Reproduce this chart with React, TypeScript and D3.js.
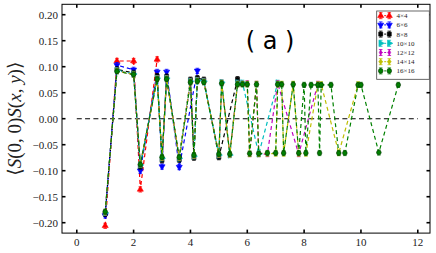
import * as d3 from "d3";

const W = 436;
const H = 253;

// distances r = |(x,y)| and correlations
const dist4 = [1, 1.414, 2, 2.236, 2.828];
const corr4 = [-0.206, 0.111, 0.111, -0.136, 0.114];

const dist6 = [1, 1.414, 2, 2.236, 2.828, 3, 3.162, 3.606, 4.243];
const corr6 = [-0.186, 0.103, 0.094, -0.1, 0.09, -0.092, 0.09, -0.093, 0.092];

const dist8 = [1, 1.414, 2, 2.236, 2.828, 3, 3.162, 3.606, 4, 4.123, 4.243, 4.472, 5, 5.657];
const corr8 = [-0.183, 0.095, 0.088, -0.092, 0.082, -0.08, 0.081, -0.079, 0.075, -0.075, 0.078, 0.075, -0.074, 0.076];

const dist10 = [1, 1.414, 2, 2.236, 2.828, 3, 3.162, 3.606, 4, 4.123, 4.243, 4.472, 5, 5.099, 5.385, 5.657, 5.831, 6.403, 7.071];
const corr10 = [-0.181, 0.093, 0.086, -0.089, 0.078, -0.076, 0.078, -0.076, 0.072, -0.072, 0.074, 0.072, -0.07, 0.07, -0.07, 0.069, 0.069, -0.068, 0.069];

const dist12 = [1, 1.414, 2, 2.236, 2.828, 3, 3.162, 3.606, 4, 4.123, 4.243, 4.472, 5, 5.099, 5.385, 5.657, 5.831, 6, 6.083, 6.325, 6.403, 6.708, 7.071, 7.81, 8.485];
const corr12 = [-0.18, 0.092, 0.085, -0.088, 0.077, -0.075, 0.077, -0.075, 0.071, -0.071, 0.073, 0.071, -0.069, 0.069, -0.069, 0.067, 0.067, 0.068, -0.068, 0.067, -0.068, -0.068, 0.068, -0.068, 0.067];

const dist14 = [1, 1.414, 2, 2.236, 2.828, 3, 3.162, 3.606, 4, 4.123, 4.243, 4.472, 5, 5.099, 5.385, 5.657, 5.831, 6, 6.083, 6.325, 6.403, 6.708, 7, 7.071, 7.211, 7.28, 7.616, 7.81, 8.062, 8.485, 8.602, 9.22, 9.899];
const corr14 = [-0.18, 0.092, 0.085, -0.088, 0.077, -0.075, 0.077, -0.075, 0.071, -0.071, 0.073, 0.071, -0.069, 0.069, -0.069, 0.067, 0.067, 0.067, -0.068, 0.067, -0.068, -0.067, -0.067, 0.067, 0.067, -0.067, 0.067, -0.067, -0.067, 0.066, 0.066, -0.066, 0.066];

const dist16 = [1, 1.414, 2, 2.236, 2.828, 3, 3.162, 3.606, 4, 4.123, 4.243, 4.472, 5, 5.099, 5.385, 5.657, 5.831, 6, 6.083, 6.325, 6.403, 6.708, 7, 7.071, 7.211, 7.28, 7.616, 7.81, 8, 8.062, 8.246, 8.485, 8.544, 8.602, 8.944, 9.22, 9.434, 9.899, 10, 10.63, 11.314];
const corr16 = [-0.179, 0.091, 0.085, -0.088, 0.076, -0.074, 0.076, -0.074, 0.07, -0.07, 0.072, 0.07, -0.068, 0.068, -0.068, 0.066, 0.066, 0.066, -0.067, 0.066, -0.067, -0.066, -0.066, 0.066, 0.066, -0.066, 0.066, -0.066, 0.065, -0.066, 0.065, 0.065, -0.066, 0.065, 0.065, -0.066, -0.066, 0.065, 0.065, -0.065, 0.065];

const labels = ["4\u00d74", "6\u00d76", "8\u00d78", "10\u00d710", "12\u00d712", "14\u00d714", "16\u00d716"];
const colors = ["#ff0000", "#0000ff", "#000000", "#00bfbf", "#bf00bf", "#bfbf00", "#008000"];
const shapes = ["up", "down", "square", "right", "thin", "diamond", "circle"];

const xTicks = [0, 2, 4, 6, 8, 10, 12];
const yTicks = [-0.2, -0.15, -0.1, -0.05, 0, 0.05, 0.1, 0.15, 0.2];

const errSize = 0.005;

const series = [
  [dist4, corr4], [dist6, corr6], [dist8, corr8], [dist10, corr10],
  [dist12, corr12], [dist14, corr14], [dist16, corr16],
].map(([xs, ys], i) => ({
  name: labels[i],
  color: colors[i],
  shape: shapes[i],
  pts: xs.map((x, j) => ({ x, y: ys[j] })),
}));

const x = d3.scaleLinear().domain([-0.52, 12.43]).range([62, 430]);
const y = d3.scaleLinear().domain([-0.22, 0.22]).range([233.1, 4.3]);

const fmtY = (v: number) => (v < 0 ? "\u2212" : "") + Math.abs(v).toFixed(2);

function markerPath(shape: string) {
  switch (shape) {
    case "up":
      return d3.symbol().type(d3.symbolTriangle).size(16)() as string;
    case "down":
      return d3.symbol().type(d3.symbolTriangle).size(16)() as string;
    case "square":
      return d3.symbol().type(d3.symbolSquare).size(16)() as string;
    case "right":
      return d3.symbol().type(d3.symbolTriangle).size(16)() as string;
    case "thin":
      return "M0,-2.8L1.4,0L0,2.8L-1.4,0Z";
    case "diamond":
      return "M0,-2.6L1.9,0L0,2.6L-1.9,0Z";
    default:
      return d3.symbol().type(d3.symbolCircle).size(17)() as string;
  }
}
const rot: Record<string, number> = { down: 180, right: 90 };

function Marker({ cx, cy, s }: { cx: number; cy: number; s: any }) {
  const r = rot[s.shape] || 0;
  return (
    <path
      d={markerPath(s.shape)}
      transform={`translate(${cx},${cy}) rotate(${r})`}
      fill={s.color}
      stroke={s.shape === "circle" ? "#003000" : s.color}
      strokeWidth={0.6}
    />
  );
}

function ErrBar({ cx, y0, y1, color }: { cx: number; y0: number; y1: number; color: string }) {
  return (
    <g stroke={color} strokeWidth={0.8}>
      <line x1={cx} x2={cx} y1={y0} y2={y1} />
      <line x1={cx - 1.8} x2={cx + 1.8} y1={y0} y2={y0} />
      <line x1={cx - 1.8} x2={cx + 1.8} y1={y1} y2={y1} />
    </g>
  );
}

export default function App() {
  const line = d3
    .line<{ x: number; y: number }>()
    .x((d) => x(d.x))
    .y((d) => y(d.y));
  const [x0, x1] = x.range();
  const [yb, yt] = y.range();
  const serif = "'Liberation Serif', 'DejaVu Serif', serif";

  return (
    <div style={{ position: "absolute", left: 0, top: 0 }}>
      <svg width={W} height={H} style={{ display: "block", background: "#fff" }}>
        {/* zero line */}
        <line
          x1={x(0)} x2={x(12)} y1={y(0)} y2={y(0)}
          stroke="#000" strokeWidth={1.1} strokeDasharray="5,3.3"
        />

        {series.map((s) => (
          <g key={s.name}>
            <path d={line(s.pts) as string} fill="none" stroke={s.color} strokeWidth={1.2} strokeDasharray="4,3" />
            {s.pts.map((p, j) => (
              <ErrBar key={"e" + j} cx={x(p.x)} y0={y(p.y + errSize)} y1={y(p.y - errSize)} color={s.color} />
            ))}
            {s.pts.map((p, j) => (
              <Marker key={"m" + j} cx={x(p.x)} cy={y(p.y)} s={s} />
            ))}
          </g>
        ))}

        {/* frame */}
        <rect x={x0} y={yt} width={x1 - x0} height={yb - yt} fill="none" stroke="#000" strokeWidth={1} />

        {/* x ticks */}
        {xTicks.map((t) => (
          <g key={"x" + t}>
            <line x1={x(t)} x2={x(t)} y1={yb} y2={yb - 3.5} stroke="#000" strokeWidth={1.6} />
            <line x1={x(t)} x2={x(t)} y1={yt} y2={yt + 3.5} stroke="#000" strokeWidth={1.6} />
            <text x={x(t)} y={246} textAnchor="middle" fontFamily={serif} fontSize={11} fill="#222">
              {t}
            </text>
          </g>
        ))}

        {/* y ticks */}
        {yTicks.map((t) => (
          <g key={"y" + t}>
            <line x1={x0} x2={x0 + 3.5} y1={y(t)} y2={y(t)} stroke="#000" strokeWidth={1.6} />
            <line x1={x1} x2={x1 - 3.5} y1={y(t)} y2={y(t)} stroke="#000" strokeWidth={1.6} />
            <text x={58} y={y(t) + 3.8} textAnchor="end" fontFamily={serif} fontSize={11} fill="#222">
              {fmtY(t)}
            </text>
          </g>
        ))}

        {/* y label */}
        <text
          transform={`translate(21,${(yb + yt) / 2}) rotate(-90)`}
          textAnchor="middle"
          fontFamily={serif}
          fontSize={19}
          fill="#222"
        >
          {"\u27e8"}
          <tspan fontStyle="italic">S</tspan>(0, 0)
          <tspan fontStyle="italic">S</tspan>(
          <tspan fontStyle="italic">x</tspan>,{" "}
          <tspan fontStyle="italic">y</tspan>){"\u27e9"}
        </text>

        {/* panel tag */}
        <text x={270} y={49} textAnchor="middle" fontFamily="'DejaVu Sans', sans-serif" fontSize={24} fill="#000">
          ( a )
        </text>

        {/* legend */}
        <g>
          <rect x={376.7} y={11} width={52.6} height={68.3} fill="#fff" stroke="#444" strokeWidth={0.8} />
          {series.map((s, i) => {
            const ly = 15.7 + i * 9.2;
            return (
              <g key={"l" + s.name}>
                <line x1={380.7} x2={389.3} y1={ly} y2={ly} stroke={s.color} strokeWidth={1} strokeDasharray="2,1.5" />
                <ErrBar cx={380.7} y0={ly - 3} y1={ly + 3} color={s.color} />
                <ErrBar cx={389.3} y0={ly - 3} y1={ly + 3} color={s.color} />
                <Marker cx={380.7} cy={ly} s={s} />
                <Marker cx={389.3} cy={ly} s={s} />
                <text x={396.5} y={ly + 2.4} fontFamily={serif} fontSize={7} fill="#222">
                  {s.name}
                </text>
              </g>
            );
          })}
        </g>
      </svg>
    </div>
  );
}
